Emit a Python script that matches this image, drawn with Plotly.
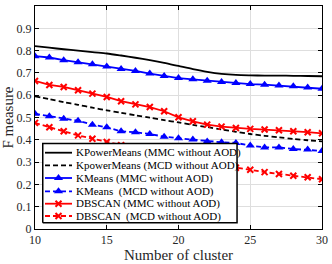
import plotly.graph_objects as go

clusters = list(range(10, 31))

kpm_mmc = [0.820, 0.813, 0.806, 0.800, 0.793, 0.787, 0.778, 0.768, 0.757, 0.745, 0.731,
           0.717, 0.705, 0.696, 0.691, 0.689, 0.688, 0.688, 0.687, 0.686, 0.685]
kpm_mcd = [0.595, 0.582, 0.569, 0.557, 0.544, 0.532, 0.521, 0.510, 0.499, 0.488, 0.478,
           0.467, 0.457, 0.446, 0.436, 0.426, 0.418, 0.411, 0.404, 0.398, 0.393]
km_mmc = [0.775, 0.769, 0.757, 0.748, 0.739, 0.729, 0.718, 0.709, 0.697, 0.686, 0.677,
          0.671, 0.665, 0.659, 0.655, 0.650, 0.647, 0.643, 0.640, 0.634, 0.629]
km_mcd = [0.517, 0.506, 0.494, 0.485, 0.468, 0.456, 0.438, 0.434, 0.426, 0.414, 0.407,
          0.401, 0.392, 0.389, 0.386, 0.374, 0.366, 0.366, 0.359, 0.356, 0.350]
db_mmc = [0.664, 0.646, 0.637, 0.622, 0.607, 0.592, 0.573, 0.559, 0.547, 0.528, 0.501,
          0.483, 0.468, 0.459, 0.453, 0.449, 0.446, 0.443, 0.438, 0.434, 0.429]
db_mcd = [0.476, 0.456, 0.438, 0.420, 0.405, 0.390, 0.376, 0.361, 0.348, 0.334, 0.321,
          0.309, 0.297, 0.286, 0.275, 0.266, 0.255, 0.247, 0.239, 0.232, 0.223]

series_names = ["KPowerMeans (MMC without AOD)",
                "KpowerMeans (MCD without AOD)",
                "KMeans (MMC without AOD)",
                "KMeans\u00a0 (MCD without AOD)",
                "DBSCAN (MMC without AOD)",
                "DBSCAN\u00a0 (MCD without AOD)"]
series_values = [kpm_mmc, kpm_mcd, km_mmc, km_mcd, db_mmc, db_mcd]
styles = [
    dict(color="black", dash="solid", symbol=None),
    dict(color="black", dash="5px,3px", symbol=None),
    dict(color="#0000ff", dash="solid", symbol="triangle-up"),
    dict(color="#0000ff", dash="5px,3px", symbol="triangle-up"),
    dict(color="#ff0000", dash="solid", symbol="x-thin"),
    dict(color="#ff0000", dash="5px,3px", symbol="x-thin"),
]

FONT = "Liberation Serif"
fig = go.Figure()

def marker_for(st):
    if st["symbol"] is None:
        return None
    if st["symbol"] == "triangle-up":
        return dict(symbol="triangle-up", size=8, color=st["color"], line=dict(width=0))
    return dict(symbol="x-thin", size=6, color=st["color"], line=dict(width=2, color=st["color"]))

for name, vals, st in zip(series_names, series_values, styles):
    mk = marker_for(st)
    fig.add_trace(go.Scatter(
        x=clusters, y=vals, name=name,
        mode="lines+markers" if mk else "lines",
        line=dict(color=st["color"], width=1.8, dash=st["dash"],
                  shape="spline" if mk is None else "linear", smoothing=0.8),
        marker=mk, showlegend=False))

# Custom legend drawn on an overlay axis (paper-like 0..1 coordinates)
L = dict(x0=0.027, x1=0.704, y0=0.028, y1=0.383)
fig.add_trace(go.Scatter(
    x=[L["x0"], L["x1"], L["x1"], L["x0"], L["x0"]],
    y=[L["y0"], L["y0"], L["y1"], L["y1"], L["y0"]],
    xaxis="x2", yaxis="y2", mode="lines", fill="toself",
    fillcolor="white", line=dict(color="black", width=1.5),
    showlegend=False, hoverinfo="skip"))

row_py = [152.7, 165.3, 178.0, 191.3, 203.7, 216.0]
for i, (name, st) in enumerate(zip(series_names, styles)):
    yy = (229 - row_py[i]) / 223
    xa = (45 - 35) / 287
    xb = (72 - 35) / 287
    xm = (xa + xb) / 2
    fig.add_trace(go.Scatter(
        x=[xa, xb], y=[yy, yy], xaxis="x2", yaxis="y2", mode="lines",
        line=dict(color=st["color"], width=1.8, dash=st["dash"]),
        showlegend=False, hoverinfo="skip"))
    mk = marker_for(st)
    if mk:
        fig.add_trace(go.Scatter(
            x=[xm], y=[yy], xaxis="x2", yaxis="y2", mode="markers",
            marker=mk, showlegend=False, hoverinfo="skip"))
    fig.add_annotation(x=(74 - 35) / 287, y=yy, xref="paper", yref="paper",
                       text=name, showarrow=False, xanchor="left", yanchor="middle",
                       font=dict(family=FONT, size=11, color="black"))

axis_common = dict(showline=True, linecolor="black", linewidth=1, mirror="ticks",
                   ticks="inside", ticklen=4, tickcolor="black",
                   showgrid=True, gridcolor="#dedede", gridwidth=1, zeroline=False,
                   tickfont=dict(family=FONT, size=12, color="#262626"))

fig.update_layout(
    width=332, height=264,
    margin=dict(l=35, r=10, t=6, b=35, autoexpand=False),
    paper_bgcolor="white", plot_bgcolor="white",
    font=dict(family=FONT, size=12, color="#262626"),
    xaxis=dict(range=[10, 30], dtick=5, tick0=10,
               title=dict(text="Number of cluster", standoff=3,
                          font=dict(family=FONT, size=15, color="#262626")),
               **axis_common),
    yaxis=dict(range=[0, 1], dtick=0.1, tick0=0,
               title=dict(text="F measure", standoff=1,
                          font=dict(family=FONT, size=15, color="#262626")),
               **axis_common),
    xaxis2=dict(overlaying="x", range=[0, 1], visible=False, fixedrange=True),
    yaxis2=dict(overlaying="y", range=[0, 1], visible=False, fixedrange=True),
    showlegend=False,
)

fig.write_html("out.html", config={"displayModeBar": False},
               post_script="document.body.style.margin='0';")
